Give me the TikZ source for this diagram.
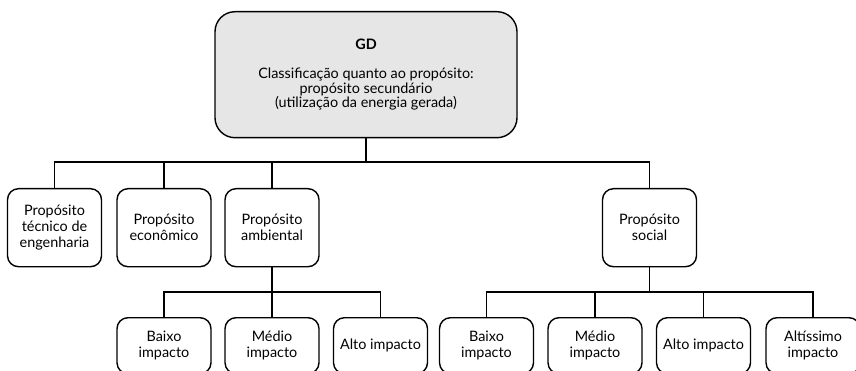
\documentclass[tikz,border=0pt]{standalone}
\usepackage{fontspec}
\setmainfont{Lato}
\definecolor{boxgray}{RGB}{230,230,230}
\begin{document}
\begin{tikzpicture}[x=1pt,y=-1pt,
  box/.style={draw=black, line width=1.4pt, rounded corners=11pt, align=center,
    minimum width=94pt, inner sep=2pt, font=\fontsize{14.4}{16}\selectfont},
  rowone/.style={box, minimum height=78pt, anchor=north},
  rowtwo/.style={box, minimum height=56pt, anchor=north},
  link/.style={draw=black, line width=1.4pt}]
\useasboundingbox (0,0) rectangle (856,371);
\begin{scope}
\clip (0,0) rectangle (856,371);
\node[box, fill=boxgray, minimum width=302pt, minimum height=126pt, rounded corners=20pt, anchor=north,
  font=\fontsize{14.4}{14.4}\selectfont] (top) at (366,11)
  {\textbf{GD}\\[15pt]Classificação quanto ao propósito:\\propósito secundário\\(utilização da energia gerada)};
\coordinate (bus1) at (0,162);
\coordinate (bus2) at (0,292);
\node[rowone] (b1) at (54.5,188) {Propósito\\técnico de\\engenharia};
\node[rowone] (b2) at (164,188) {Propósito\\econômico};
\node[rowone] (b3) at (272,188) {Propósito\\ambiental};
\node[rowone] (b4) at (649.5,188) {Propósito\\social};
\node[rowtwo] (a1) at (164,317) {Baixo\\impacto};
\node[rowtwo] (a2) at (272,317) {Médio\\impacto};
\node[rowtwo] (a3) at (380.5,317) {Alto impacto};
\node[rowtwo] (s1) at (486.5,317) {Baixo\\impacto};
\node[rowtwo] (s2) at (595,317) {Médio\\impacto};
\node[rowtwo] (s3) at (703.5,317) {Alto impacto};
\node[rowtwo] (s4) at (813,317) {Altíssimo\\impacto};
\draw[link] (top.south) -- (top.south |- bus1);
\draw[link] (b1.north) |- (b4.north |- bus1) -- (b4.north);
\draw[link] (b2.north) -- (b2.north |- bus1);
\draw[link] (b3.north) -- (b3.north |- bus1);
\draw[link] (b3.south) -- (b3.south |- bus2);
\draw[link] (a1.north) |- (a3.north |- bus2) -- (a3.north);
\draw[link] (a2.north) -- (a2.north |- bus2);
\draw[link] (b4.south) -- (b4.south |- bus2);
\draw[link] (s1.north) |- (s4.north |- bus2) -- (s4.north);
\draw[link] (s2.north) -- (s2.north |- bus2);
\draw[link] (s3.north) -- (s3.north |- bus2);
\end{scope}
\end{tikzpicture}
\end{document}
